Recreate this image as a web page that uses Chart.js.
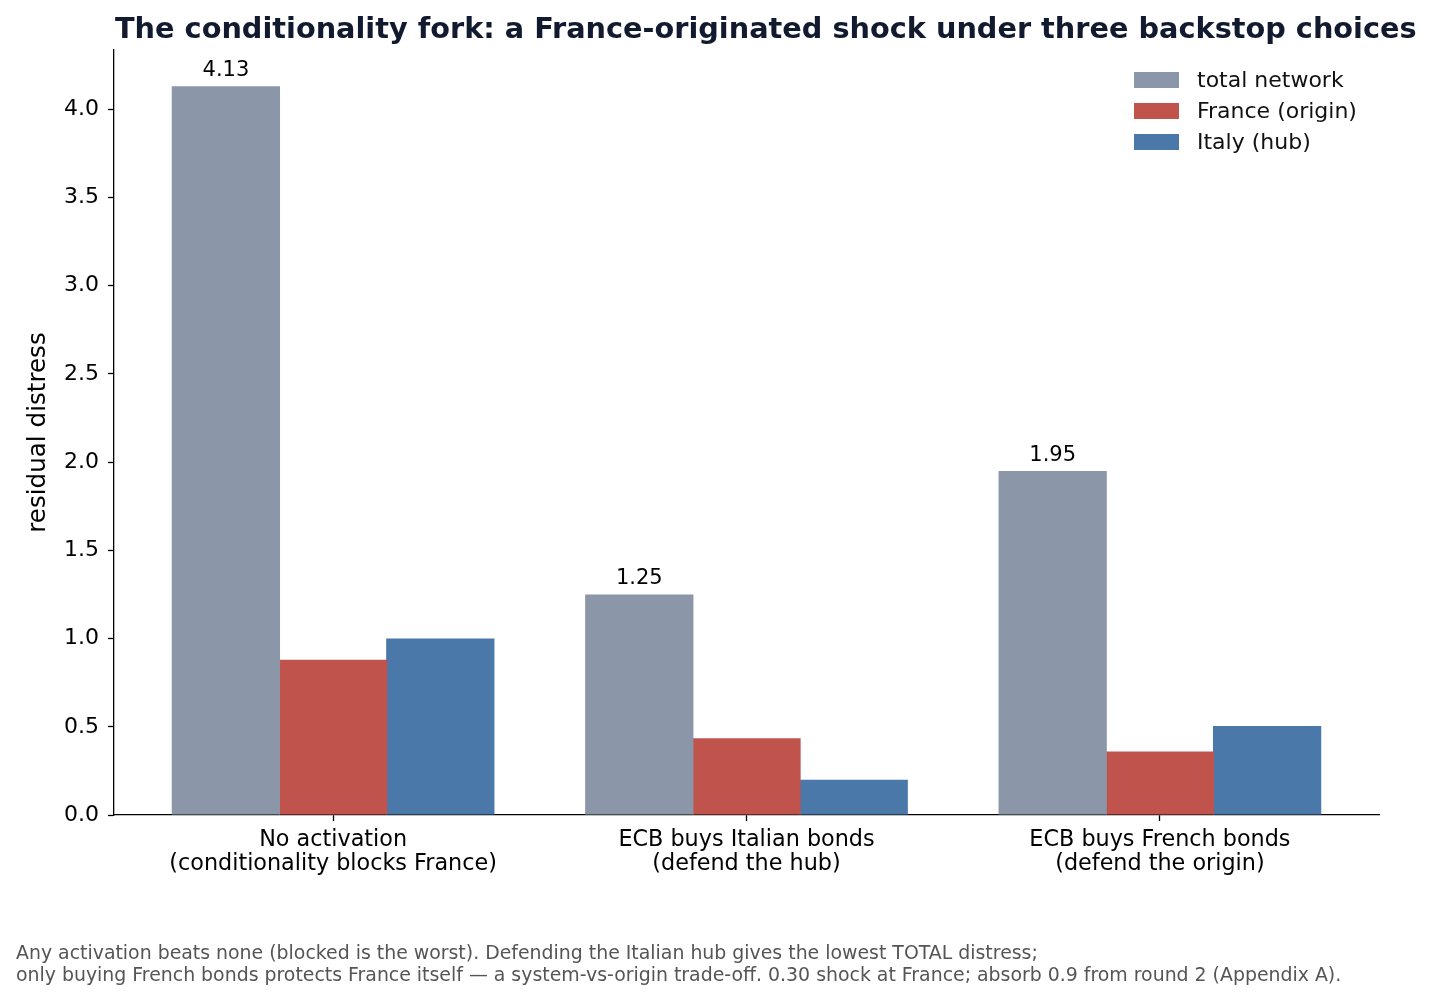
<!DOCTYPE html>
<html>
<head>
<meta charset="utf-8">
<script src="https://cdn.jsdelivr.net/npm/chart.js@4.4.1/dist/chart.umd.min.js"></script>
<style>
  html, body { margin: 0; padding: 0; background: #fff; }
  #wrap { width: 1434px; height: 1001px; position: relative; }
</style>
</head>
<body>
<div id="wrap"><canvas id="chart"></canvas></div>
<script>
const categories = [
  ['No activation', '(conditionality blocks France)'],
  ['ECB buys Italian bonds', '(defend the hub)'],
  ['ECB buys French bonds', '(defend the origin)'],
];
const seriesNames = ['total network', 'France (origin)', 'Italy (hub)'];
const totalNetwork = [4.13, 1.25, 1.95];
const franceOrigin = [0.88, 0.435, 0.36];
const italyHub = [1.00, 0.20, 0.505];
const yTicks = [0, 0.5, 1.0, 1.5, 2.0, 2.5, 3.0, 3.5, 4.0];
const seriesColors = ['#8b97a8', '#c0534c', '#4a78a8'];

const TITLE = 'The conditionality fork: a France-originated shock under three backstop choices';
const NOTE = [
  'Any activation beats none (blocked is the worst). Defending the Italian hub gives the lowest TOTAL distress;',
  'only buying French bonds protects France itself \u2014 a system-vs-origin trade-off. 0.30 shock at France; absorb 0.9 from round 2 (Appendix A).',
];
const FONT = '"DejaVu Sans", "Liberation Sans", sans-serif';

// title, value labels, legend and footnote
const decorations = {
  id: 'decorations',
  afterDraw(chart) {
    const { ctx, chartArea: a } = chart;
    ctx.save();

    ctx.fillStyle = '#111a2e';
    ctx.font = `bold 28.75px ${FONT}`;
    ctx.textAlign = 'left';
    ctx.textBaseline = 'alphabetic';
    ctx.fillText(TITLE, a.left + 1, 38);

    // value labels on total bars
    ctx.fillStyle = '#000';
    ctx.font = `21px ${FONT}`;
    ctx.textAlign = 'center';
    const meta = chart.getDatasetMeta(0);
    meta.data.forEach((bar, i) => {
      ctx.fillText(totalNetwork[i].toFixed(2), bar.x, bar.y - 10);
    });

    // legend
    ctx.font = `22px ${FONT}`;
    ctx.textAlign = 'left';
    ctx.textBaseline = 'middle';
    seriesNames.forEach((name, i) => {
      const y = 80 + i * 31;
      ctx.fillStyle = seriesColors[i];
      ctx.fillRect(1134, y - 8, 45, 16);
      ctx.fillStyle = '#111';
      ctx.fillText(name, 1197, y + 1);
    });

    // footnote
    ctx.fillStyle = '#555';
    ctx.font = `18.9px ${FONT}`;
    ctx.textBaseline = 'alphabetic';
    NOTE.forEach((line, i) => ctx.fillText(line, 16, 959 + i * 22));

    ctx.restore();
  },
};

const datasets = [totalNetwork, franceOrigin, italyHub].map((vals, i) => ({
  label: seriesNames[i],
  data: vals.map((v, j) => ({ x: j, y: v })),
  backgroundColor: seriesColors[i],
  borderWidth: 0,
  barPercentage: 1.01,
  categoryPercentage: 0.778,
}));

new Chart(document.getElementById('chart'), {
  type: 'bar',
  data: { datasets },
  options: {
    responsive: true,
    maintainAspectRatio: false,
    animation: false,
    devicePixelRatio: 1,
    layout: { padding: { top: 50, right: 55, left: 0, bottom: 0 } },
    plugins: {
      legend: { display: false },
      tooltip: { enabled: false },
    },
    scales: {
      x: {
        type: 'linear',
        min: -0.53,
        max: 2.53,
        offset: false,
        grid: { display: true, drawOnChartArea: false, offset: false, color: '#000', tickLength: 6, tickWidth: 1.3 },
        border: { display: true, color: '#000', width: 1.3 },
        ticks: {
          color: '#000',
          font: { family: FONT, size: 22.3, lineHeight: 1.04 },
          padding: 8,
          maxRotation: 0,
          autoSkip: false,
          callback: v => categories[v],
        },
        afterBuildTicks(scale) {
          scale.ticks = categories.map((c, i) => ({ value: i }));
        },
        afterFit(scale) { scale.height = 186; },
      },
      y: {
        min: 0,
        max: 4.336,
        grid: { display: true, drawOnChartArea: false, color: '#000', tickLength: 6, tickWidth: 1.3 },
        border: { display: true, color: '#000', width: 1.3 },
        ticks: {
          color: '#000',
          font: { family: FONT, size: 22 },
          padding: 9,
          callback: v => Number(v).toFixed(1),
        },
        afterBuildTicks(scale) {
          scale.ticks = yTicks.map(v => ({ value: v }));
        },
        title: {
          display: true,
          text: 'residual distress',
          color: '#000',
          font: { family: FONT, size: 24.6 },
          padding: { top: 24, bottom: 0 },
        },
        afterFit(scale) { scale.width = 114; },
      },
    },
  },
  plugins: [decorations],
});
</script>
</body>
</html>
